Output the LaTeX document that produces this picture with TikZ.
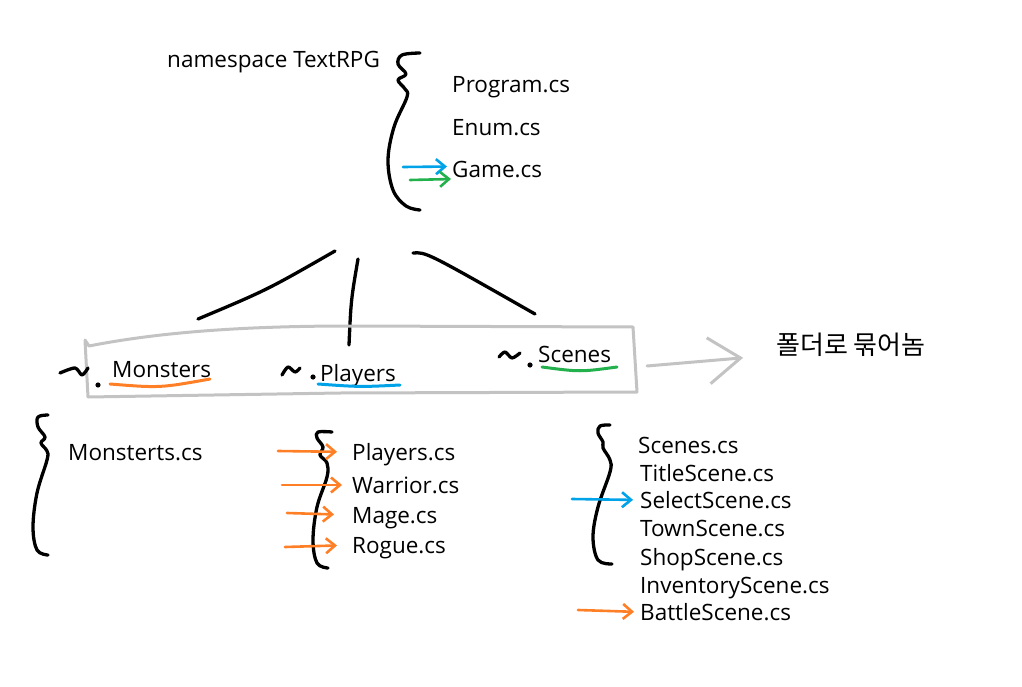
\documentclass[tikz,border=0pt]{standalone}
\usepackage{fontspec}
\setmainfont{Open Sans}
\newfontfamily\krfont{Noto Sans CJK KR}
\usetikzlibrary{arrows.meta}
\definecolor{Ink}{HTML}{000000}
\definecolor{PaintOrange}{HTML}{FF7F27}
\definecolor{PaintBlue}{HTML}{00A2E8}
\definecolor{PaintGreen}{HTML}{22B14C}
\definecolor{PaintGray}{HTML}{C3C3C3}
\tikzset{
  file/.style={anchor=west,inner sep=0pt,text=Ink,text height=16pt,text depth=0pt,
    font=\fontsize{22.5}{26}\selectfont},
  brace/.style={Ink,line width=3.3pt,line cap=round,line join=round},
  pen/.style={line width=3pt,line cap=round,line join=round},
  hint/.style={line width=2.6pt,line cap=round,
    -{Straight Barb[length=9pt,width=15pt,line width=2.6pt]}},
}

\begin{document}
\begin{tikzpicture}[x=1pt,y=-1pt]
  \useasboundingbox (0,0) rectangle (1022,687);
  % namespace and its top-level files
  \node[file] (ns) at (167,60) {namespace TextRPG};
  \draw[brace] plot[smooth,tension=0.6] coordinates {(420,53) (402,55) (398,64)
    (406,74) (398,80) (405,89) (407,97) (394,127) (388,160) (393,190) (406,206) (420,210)};
  \node[file] (program) at (452,85) {Program.cs};
  \node[file] (enum) at (452,128) {Enum.cs};
  \node[file] (game) at (452,170) {Game.cs};
  \coordinate (gameB) at (403,167);
  \coordinate (gameG) at (410,180);
  \draw[hint,PaintBlue,shorten >=5pt] (gameB) -- ([yshift=3.5pt]game.west);
  \draw[hint,PaintGreen,shorten >=1pt] (gameG) -- ([yshift=-9pt]game.west);

  % branches down to the folders
  \coordinate (brL) at (335,251);
  \coordinate (brM) at (358,259);
  \coordinate (brR) at (413,253);
  \coordinate (toL) at (198,319);
  \coordinate (toM) at (349,345);
  \coordinate (toR) at (535,314);
  \draw[brace] (brL) .. controls (267,290) .. (toL);
  \draw[brace] (brM) .. controls (351,300) .. (toM);
  \draw[brace] (brR) .. controls (426,252) .. (toR);

  % folder group
  \draw[pen,PaintGray] (85,340) -- (89,346) .. controls (150,334) and (230,326) .. (350,326)
    -- (633,327) -- (637,392) -- (340,393) -- (88,397) -- (85,340);
  \node[file] (monsters) at (112,369) {Monsters};
  \node[file] (players) at (320,373) {Players};
  \node[file] (scenes) at (538,354) {Scenes};
  \draw[brace] plot[smooth] coordinates {(60,373) (75,368) (82,375) (88,368)};
  \draw[brace] plot[smooth] coordinates {(282,375) (288,367) (295,372) (300,368)};
  \draw[brace] plot[smooth] coordinates {(499,357) (505,352) (512,358) (520,353)};
  \fill[Ink] (98,385) circle (2.6) (313,377) circle (2.6) (530,365) circle (2.6);
  \draw[pen,PaintOrange] (110,384) .. controls (160,388) .. (210,379);
  \draw[pen,PaintBlue] (318,384) .. controls (360,387) .. (400,385);
  \draw[pen,PaintGreen] (542,367) .. controls (580,372) .. (617,367);

  % note
  \node[file,font=\krfont\fontsize{26}{30}\selectfont] (note) at (776,346) {폴더로 묶어놈};
  \coordinate (boxE) at (647,366);
  \draw[pen,PaintGray,shorten >=33pt,
    -{Straight Barb[length=32pt,width=46pt,line width=3pt]}] (boxE) -- ([yshift=-9pt]note.west);

  % Monsters folder
  \draw[brace] plot[smooth,tension=0.6] coordinates {(48,415) (38,417) (38,427) (45,437)
    (41,443) (47,451) (47,460) (37,493) (33,527) (37,550) (48,555)};
  \node[file] (mfile) at (68,452) {Monsterts.cs};

  % Players folder
  \draw[brace] plot[smooth,tension=0.6] coordinates {(332,432) (318,432) (317,438) (323,447)
    (320,455) (327,463) (327,477) (317,507) (313,540) (317,563) (328,568)};
  \foreach \y/\name/\lab in {452/p1/Players.cs,485/p2/Warrior.cs,515/p3/Mage.cs,545/p4/Rogue.cs}
    \node[file] (\name) at (352,\y) {\lab};
  \foreach \name/\x/\y/\gap in {p1/278/451/15,p2/282/485/10,p3/287/513/18,p4/285/547/15}
  {
    \coordinate (\name-t) at (\x,\y);
    \draw[hint,PaintOrange,shorten >=\gap pt] (\name-t) -- (\name.west);
  }

  % Scenes folder
  \draw[brace] plot[smooth,tension=0.6] coordinates {(610,425) (600,426) (598,433) (603,442)
    (603,448) (610,460) (610,472) (598,507) (593,537) (598,560) (612,564)};
  \node[file] (s1) at (638,445) {Scenes.cs};
  \foreach \y/\name/\lab in {473/s2/TitleScene.cs,500/s3/SelectScene.cs,528/s4/TownScene.cs,
    557/s5/ShopScene.cs,585/s6/InventoryScene.cs,612/s7/BattleScene.cs}
    \node[file] (\name) at (640,\y) {\lab};
  \coordinate (s3-t) at (572,499);
  \coordinate (s7-t) at (578,610);
  \draw[hint,PaintBlue,shorten >=7pt] (s3-t) -- (s3.west);
  \draw[hint,PaintOrange,shorten >=6pt] (s7-t) -- (s7.west);
\end{tikzpicture}
\end{document}
